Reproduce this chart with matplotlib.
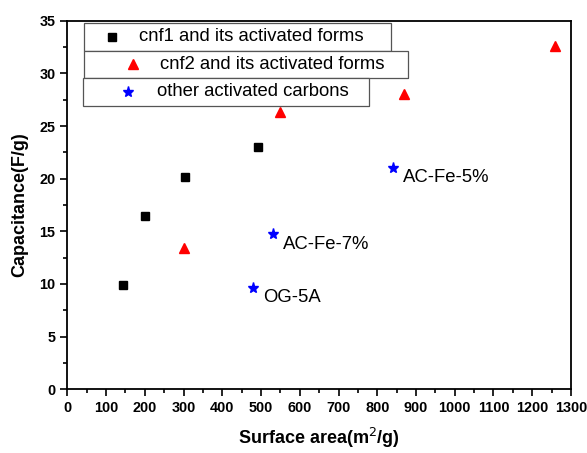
import matplotlib
matplotlib.use("Agg")
import matplotlib.pyplot as plt
from matplotlib.patches import Rectangle
from matplotlib.ticker import MultipleLocator

plt.rcParams['font.family'] = ['Liberation Sans', 'DejaVu Sans']

# data
cnf1_area = [144, 200, 303, 493]
cnf1_cap = [9.9, 16.5, 20.2, 23.0]

cnf2_area = [302, 549, 868, 1259]
cnf2_cap = [13.4, 26.3, 28.0, 32.6]

other_area = [480, 532, 841]
other_cap = [9.6, 14.7, 21.0]
other_names = ["OG-5A", "AC-Fe-7%", "AC-Fe-5%"]

legend_labels = ["cnf1 and its activated forms",
                 "cnf2 and its activated forms",
                 "other activated carbons"]

fig = plt.figure(figsize=(5.87, 4.53), dpi=100)
ax = fig.add_axes([0.1147, 0.141, 0.858, 0.813])

ax.plot(cnf1_area, cnf1_cap, 's', color='black', markersize=5.5, linestyle='none')
ax.plot(cnf2_area, cnf2_cap, '^', color='red', markersize=7, linestyle='none')
ax.plot(other_area, other_cap, '*', color='blue', markersize=8, linestyle='none')

for x, y, name in zip(other_area, other_cap, other_names):
    ax.annotate(name, (x, y), xytext=(7, -7), textcoords='offset points',
                fontsize=13.3, va='center', ha='left')

ax.set_xlim(0, 1300)
ax.set_ylim(0, 35)
ax.xaxis.set_major_locator(MultipleLocator(100))
ax.xaxis.set_minor_locator(MultipleLocator(50))
ax.yaxis.set_major_locator(MultipleLocator(5))
ax.yaxis.set_minor_locator(MultipleLocator(2.5))
ax.tick_params(which='major', direction='out', length=5, width=1.2,
               top=False, right=False, labelsize=10.4)
ax.tick_params(which='minor', direction='out', length=3, width=1.2,
               top=False, right=False)
for lab in ax.get_xticklabels() + ax.get_yticklabels():
    lab.set_fontweight('bold')
for sp in ax.spines.values():
    sp.set_linewidth(1.3)

ax.set_xlabel("Surface area(m$^2$/g)", fontsize=13, fontweight='bold', labelpad=8)
ax.set_ylabel("Capacitance(F/g)", fontsize=13, fontweight='bold', labelpad=8)

# Origin-style separate legend boxes
boxes = [(0.033, 0.918, 0.610, 0.0766), (0.033, 0.8444, 0.643, 0.0736),
         (0.031, 0.7684, 0.568, 0.076)]
marks = [('s', 'black', 5.5, 0.088, 0.9566, 0.142),
         ('^', 'red', 7, 0.130, 0.8824, 0.184),
         ('*', 'blue', 8, 0.1206, 0.807, 0.178)]
for (bx, by, bw, bh), (m, c, ms, mx, my, tx), lab in zip(boxes, marks, legend_labels):
    ax.add_patch(Rectangle((bx + 0.002, by - 0.003), bw, bh, transform=ax.transAxes,
                           facecolor='#333333', edgecolor='none', zorder=4))
    ax.add_patch(Rectangle((bx, by), bw, bh, transform=ax.transAxes,
                           facecolor='white', edgecolor='#555555', lw=0.9, zorder=5))
    ax.plot([mx], [my], m, color=c, markersize=ms, transform=ax.transAxes,
            zorder=6, clip_on=False)
    ax.text(tx, my, lab, transform=ax.transAxes, fontsize=13.3, va='center',
            ha='left', zorder=6)

fig.savefig("out.png", dpi=100)
